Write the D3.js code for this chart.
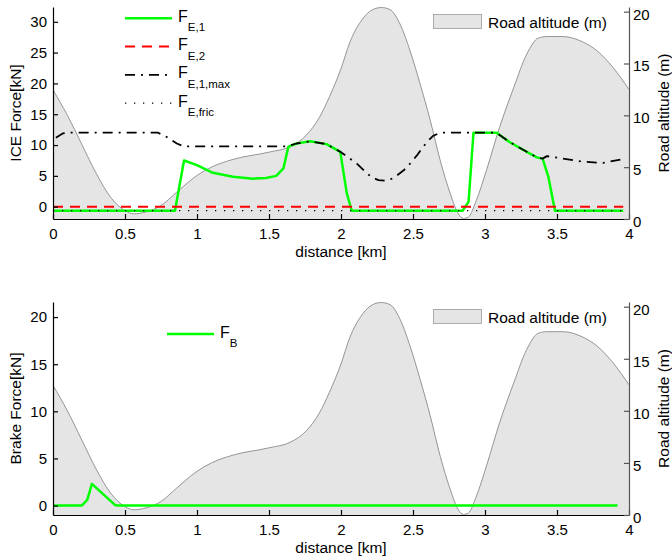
<!DOCTYPE html>
<html>
<head>
<meta charset="utf-8">
<script src="https://cdn.jsdelivr.net/npm/d3@7/dist/d3.min.js"></script>
<style>
  body { margin: 0; background: #fff; }
  svg { display: block; font-family: "Liberation Sans", Arial, Helvetica, sans-serif; }
  .axis text { font-size: 15px; fill: #000; }
  .axis path, .axis line { stroke: #000; stroke-width: 1.2; }
  .raxis path, .raxis line { stroke: #555; }
</style>
</head>
<body>
<svg id="chart" width="672" height="560"></svg>
<script>
// ---------- DATA ----------
const distTicks = [0, 0.5, 1, 1.5, 2, 2.5, 3, 3.5, 4];
const distTickLabels = ["0", "0.5", "1", "1.5", "2", "2.5", "3", "3.5", "4"];
const iceTicks = [0, 5, 10, 15, 20, 25, 30];
const brakeTicks = [0, 5, 10, 15, 20];
const altTicks = [0, 5, 10, 15, 20];

// Road altitude profile (m) vs distance (km)
const altDist = [0, 0.1, 0.2, 0.3, 0.4, 0.5, 0.56, 0.65, 0.75, 0.86, 1.0, 1.1, 1.25, 1.5, 1.65, 1.76, 1.85, 1.92, 2.0, 2.06, 2.15, 2.22, 2.28, 2.34, 2.41, 2.48, 2.55, 2.62, 2.69, 2.76, 2.815, 2.85, 2.885, 2.94, 3.01, 3.1, 3.2, 3.29, 3.37, 3.43, 3.54, 3.66, 3.78, 3.89, 4.0];
const altValue = [12.45, 10.0, 7.2, 4.4, 2.1, 0.8, 0.5, 0.7, 1.3, 2.6, 4.2, 5.0, 5.75, 6.45, 7.0, 8.1, 9.8, 11.8, 14.5, 17.0, 19.3, 20.2, 20.4, 20.2, 18.8, 16.2, 13.0, 9.5, 5.6, 2.4, 0.5, 0.05, 0.2, 1.8, 4.7, 8.8, 12.7, 15.9, 17.45, 17.6, 17.6, 17.2, 16.2, 14.6, 12.5];

// F_E,1 (kN)
const fe1Dist = [0, 0.847, 0.91, 1.0, 1.11, 1.25, 1.39, 1.48, 1.55, 1.6, 1.634, 1.69, 1.785, 1.9, 1.995, 2.04, 2.074, 2.845, 2.886, 2.92, 3.08, 3.17, 3.29, 3.36, 3.4, 3.44, 3.486, 3.96];
const fe1Value = [-0.65, -0.65, 7.5, 6.75, 5.5, 4.85, 4.55, 4.64, 5.0, 6.2, 9.7, 10.25, 10.6, 10.15, 8.9, 2.2, -0.65, -0.65, 0.8, 12.0, 12.0, 10.5, 8.9, 8.0, 7.8, 4.85, -0.65, -0.65];

// F_E,2 (kN)
const fe2Dist = [0, 3.96];
const fe2Value = [0, 0];

// F_E,1,max (kN)
const fe1maxDist = [0.02, 0.07, 0.1, 0.73, 0.79, 0.86, 0.905, 1.623, 1.69, 1.785, 1.9, 1.995, 2.05, 2.11, 2.18, 2.22, 2.26, 2.31, 2.35, 2.39, 2.44, 2.48, 2.53, 2.57, 2.61, 2.64, 2.69, 3.08, 3.17, 3.29, 3.36, 3.4, 3.43, 3.54, 3.68, 3.82, 3.94];
const fe1maxValue = [11.2, 11.9, 12.0, 12.0, 11.3, 10.25, 9.8, 9.8, 10.25, 10.6, 10.15, 8.9, 8.0, 7.0, 5.4, 4.7, 4.3, 4.2, 4.5, 5.1, 6.0, 7.0, 8.4, 9.7, 10.8, 11.5, 12.0, 12.0, 10.5, 8.9, 8.0, 7.8, 8.2, 7.8, 7.3, 7.1, 7.65];

// F_E,fric (kN)
const fricDist = [0, 3.96];
const fricValue = [-0.65, -0.65];

// F_B (kN)
const fbDist = [0, 0.199, 0.238, 0.27, 0.43, 0.45, 3.92];
const fbValue = [0, 0, 0.6, 2.3, 0.07, 0, 0];

// ---------- DRAWING ----------
const svg = d3.select("#chart");
const X0 = 53, X1 = 629;

const zip = (xs, ys) => xs.map((x, i) => [x, ys[i]]);

function panel(cfg) {
  const g = svg.append("g");
  const x = d3.scaleLinear().domain([0, 4]).range([X0, X1]);
  const yL = d3.scaleLinear().domain(cfg.leftDomain).range([cfg.bottom, cfg.top]);
  const yR = d3.scaleLinear().domain([0, 20.45]).range([cfg.bottom, cfg.top]);

  const clipId = "clip" + cfg.id;
  svg.append("clipPath").attr("id", clipId).append("rect")
    .attr("x", X0).attr("y", cfg.top).attr("width", X1 - X0).attr("height", cfg.bottom - cfg.top);

  const plot = g.append("g").attr("clip-path", `url(#${clipId})`);
  const altData = zip(altDist, altValue);
  plot.append("path").datum(altData)
    .attr("d", d3.area().x(d => x(d[0])).y0(cfg.bottom).y1(d => yR(d[1])).curve(d3.curveMonotoneX))
    .attr("fill", "#e5e5e5");
  plot.append("path").datum(altData)
    .attr("d", d3.line().x(d => x(d[0])).y(d => yR(d[1])).curve(d3.curveMonotoneX))
    .attr("fill", "none").attr("stroke", "#8a8a8a").attr("stroke-width", 0.9);

  const line = d3.line().x(d => x(d[0])).y(d => yL(d[1]));
  cfg.series.forEach(s => {
    plot.append("path").datum(zip(s.xs, s.ys))
      .attr("d", line).attr("fill", "none")
      .attr("stroke", s.color).attr("stroke-width", s.width)
      .attr("stroke-dasharray", s.dash || null)
      .attr("stroke-linejoin", "round");
  });

  // axes
  g.append("g").attr("class", "axis").attr("transform", `translate(0,${cfg.bottom})`)
    .call(d3.axisBottom(x).tickValues(distTicks).tickFormat((d, i) => distTickLabels[i])
      .tickSizeInner(-5).tickSizeOuter(0).tickPadding(9));
  g.append("g").attr("class", "axis").attr("transform", `translate(${X0},0)`)
    .call(d3.axisLeft(yL).tickValues(cfg.leftTicks).tickFormat(d => String(d))
      .tickSizeInner(-5).tickSizeOuter(0).tickPadding(6));
  const ra = g.append("g").attr("class", "axis raxis").attr("transform", `translate(${X1},0)`)
    .call(d3.axisRight(yR).tickValues(altTicks).tickFormat(d => String(d))
      .tickSizeInner(-5).tickSizeOuter(0).tickPadding(4));
  ra.selectAll("text").attr("dy", "0.5em");
  g.selectAll(".axis text").attr("font-family", null);
  g.selectAll(".axis").attr("font-size", null);

  // axis titles
  g.append("text").attr("transform", `translate(21,${(cfg.top + cfg.bottom) / 2}) rotate(-90)`)
    .attr("text-anchor", "middle").attr("font-size", 15.5).text(cfg.leftLabel);
  g.append("text").attr("transform", `translate(669,${(cfg.top + cfg.bottom) / 2}) rotate(-90)`)
    .attr("text-anchor", "middle").attr("font-size", 15.5).text("Road altitude (m)");
  g.append("text").attr("x", (X0 + X1) / 2).attr("y", cfg.bottom + 38)
    .attr("text-anchor", "middle").attr("font-size", 15.5).text("distance [km]");

  // altitude legend
  g.append("rect").attr("x", 433.5).attr("y", cfg.top + 7.5).attr("width", 48).attr("height", 14)
    .attr("fill", "#e5e5e5").attr("stroke", "#999").attr("stroke-width", 0.8);
  g.append("text").attr("x", 488).attr("y", cfg.top + 20.5).attr("font-size", 15.5).text("Road altitude (m)");

  // series legend
  cfg.legend.forEach((s, i) => {
    const ly = cfg.legendY + i * 28.3;
    g.append("line").attr("x1", cfg.legendX).attr("x2", cfg.legendX + 47)
      .attr("y1", ly).attr("y2", ly)
      .attr("stroke", s.color).attr("stroke-width", s.width)
      .attr("stroke-dasharray", s.dash || null);
    const t = g.append("text").attr("x", cfg.legendX + 53).attr("y", ly + 3.5).attr("font-size", 16);
    t.append("tspan").text("F");
    t.append("tspan").attr("font-size", 11.5).attr("dy", 9.5).text(s.sub);
  });
}

const sE1 = { xs: fe1Dist, ys: fe1Value, color: "#00ff00", width: 2.5, sub: "E,1" };
const sE2 = { xs: fe2Dist, ys: fe2Value, color: "#ff0000", width: 2, dash: "10,7", sub: "E,2" };
const sMax = { xs: fe1maxDist, ys: fe1maxValue, color: "#000", width: 1.8, dash: "10,6,2,6", sub: "E,1,max" };
const sFric = { xs: fricDist, ys: fricValue, color: "#000", width: 1.3, dash: "1.3,7.7", sub: "E,fric" };
const sB = { xs: fbDist, ys: fbValue, color: "#00ff00", width: 2.5, sub: "B" };

panel({
  id: 1, top: 7, bottom: 219, leftDomain: [-2, 32.4], leftTicks: iceTicks,
  leftLabel: "ICE Force[kN]",
  series: [sE1, sE2, sMax, sFric],
  legend: [sE1, sE2, sMax, sFric], legendX: 125, legendY: 18.3
});
panel({
  id: 2, top: 302, bottom: 515, leftDomain: [-1, 21.6], leftTicks: brakeTicks,
  leftLabel: "Brake Force[kN]",
  series: [sB],
  legend: [sB], legendX: 167, legendY: 334
});
</script>
</body>
</html>
